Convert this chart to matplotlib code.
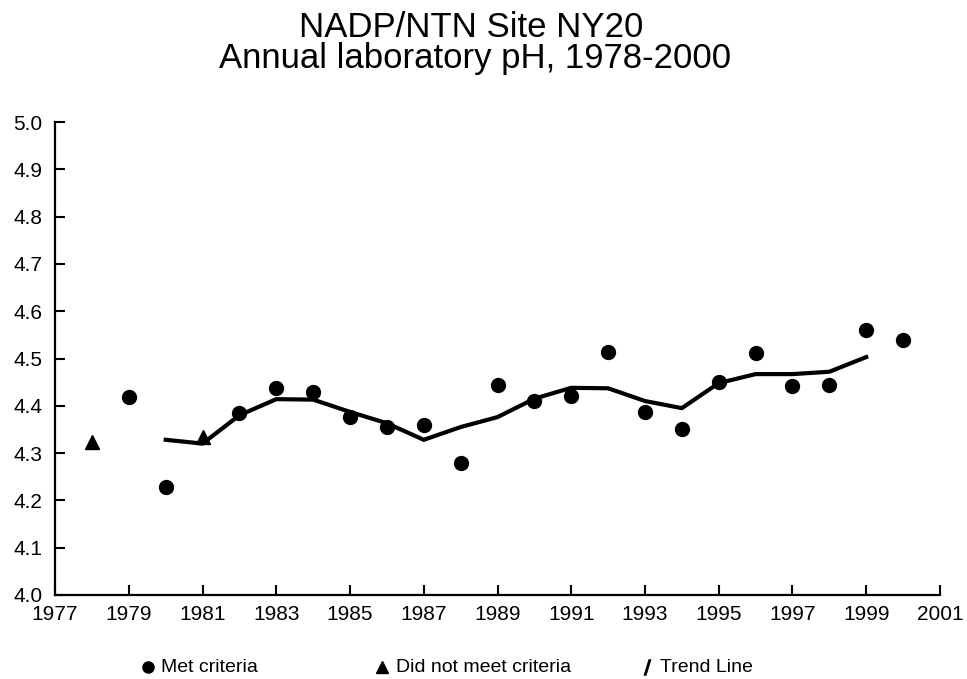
import matplotlib
matplotlib.use('Agg')
import matplotlib.pyplot as plt
from matplotlib.lines import Line2D

plt.rcParams['font.family'] = ['Liberation Sans', 'DejaVu Sans']

# annual lab pH
met_years = [1979, 1980, 1982, 1983, 1984, 1985, 1986, 1987, 1988, 1989, 1990,
             1991, 1992, 1993, 1994, 1995, 1996, 1997, 1998, 1999, 2000]
met_ph = [4.419, 4.228, 4.385, 4.438, 4.43, 4.376, 4.355, 4.36, 4.279, 4.444, 4.41,
          4.42, 4.514, 4.387, 4.351, 4.45, 4.512, 4.442, 4.444, 4.56, 4.539]

notmet_years = [1978, 1981]
notmet_ph = [4.323, 4.334]

trend_years = [1980, 1981, 1982, 1983, 1984, 1985, 1986, 1987, 1988, 1989,
               1990, 1991, 1992, 1993, 1994, 1995, 1996, 1997, 1998, 1999]
trend_ph = [4.328, 4.32, 4.38, 4.414, 4.413, 4.387, 4.363, 4.328, 4.355, 4.376,
            4.415, 4.438, 4.437, 4.41, 4.395, 4.448, 4.467, 4.467, 4.472, 4.503]

fig = plt.figure(figsize=(9.67, 6.79), dpi=100)
ax = fig.add_axes([0.057, 0.124, 0.915, 0.696])

ax.plot(trend_years, trend_ph, color='black', lw=3, zorder=2)
ax.plot(met_years, met_ph, 'o', color='black', ms=10, zorder=3)
ax.plot(notmet_years, notmet_ph, '^', color='black', ms=10, zorder=3)

ax.set_xlim(1977, 2001)
ax.set_ylim(4.0, 5.0)
ax.set_xticks(range(1977, 2002, 2))
ax.set_yticks([4.0 + 0.1 * i for i in range(11)])
ax.set_yticklabels(['%.1f' % (4.0 + 0.1 * i) for i in range(11)])
ax.tick_params(direction='in', length=7, width=1.5, labelsize=15)
ax.tick_params(axis='x', pad=7)
ax.tick_params(axis='y', pad=9)
for s in ['top', 'right']:
    ax.spines[s].set_visible(False)
for s in ['left', 'bottom']:
    ax.spines[s].set_linewidth(1.6)

fig.text(0.487, 0.9455, 'NADP/NTN Site NY20', ha='center', va='baseline', fontsize=25)
fig.text(0.491, 0.900, 'Annual laboratory pH, 1978-2000', ha='center', va='baseline',
         fontsize=25)

# legend row along the bottom
leg_y = 0.018
leg_items = [(0.153, 'o', 'Met criteria'),
             (0.395, '^', 'Did not meet criteria'),
             (0.669, '$/$', 'Trend Line')]
for x, m, label in leg_items:
    fig.add_artist(Line2D([x], [leg_y], transform=fig.transFigure, marker=m,
                          color='black', ls='none', ms=8 if m != '$/$' else 11))
    fig.text(x + 0.014, 0.0103, label, ha='left', va='baseline', fontsize=14)

fig.savefig('out.png', dpi=100)
